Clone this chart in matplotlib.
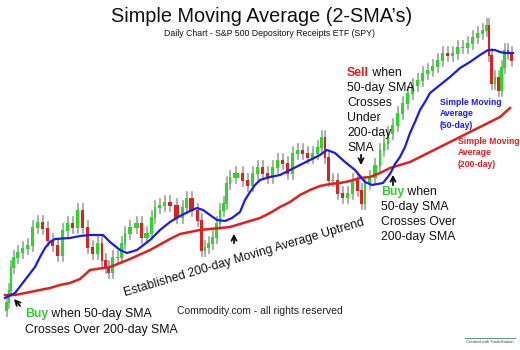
import matplotlib
matplotlib.use('Agg')
import matplotlib.pyplot as plt
import numpy as np

plt.rcParams['font.family'] = ['Liberation Sans', 'DejaVu Sans']

# trading day (approx) and price level
days = [5, 8, 10, 12, 15, 20, 25, 30, 35, 40, 45, 50, 55, 60, 65, 70, 75, 80, 85, 90,
        95, 100, 104, 107, 110, 115, 120, 123, 127, 133, 140, 143, 150, 153, 157, 162, 167,
        173, 180, 185, 188, 195, 200, 203, 207, 210, 215, 218, 222, 225, 228, 232, 240,
        245, 250, 255, 260, 265, 270, 275, 280, 285, 290, 295, 300, 305, 310, 315, 320,
        323, 327, 330, 335, 340, 345, 350, 355, 360, 363, 367, 372, 378, 382, 386, 390,
        395, 400, 405, 410, 415, 420, 425, 430, 435, 440, 445, 450, 455, 460, 465, 470,
        475, 480, 485, 488, 490, 493, 497, 500, 503, 506, 510, 513]
price = [40, 48, 60, 83, 93, 98, 102, 105, 123, 128, 122, 110, 105, 95, 120, 127, 123, 140, 123, 103,
         97, 107, 90, 83, 78, 93, 93, 107, 117, 123, 127, 113, 117, 133, 143, 145, 148,
         145, 133, 143, 152, 140, 130, 100, 103, 107, 113, 127, 140, 147, 167, 173, 177,
         170, 165, 177, 183, 177, 173, 183, 190, 187, 177, 197, 200, 197, 193, 197, 203,
         213, 193, 170, 170, 157, 153, 157, 170, 160, 147, 167, 173, 185, 200, 207, 217,
         225, 237, 247, 257, 265, 270, 277, 280, 284, 290, 297, 295, 297, 303, 303, 307,
         313, 317, 320, 325, 295, 267, 273, 260, 283, 300, 297, 290]

sma50_days = [5, 15, 25, 35, 40, 45, 50, 55, 70, 80, 90, 103, 110, 120, 127, 137, 150, 160,
              170, 180, 190, 197, 203, 210, 217, 225, 232, 240, 245, 250, 255, 260, 270,
              280, 290, 300, 310, 320, 327, 335, 345, 355, 365, 372, 383, 390, 395, 400,
              405, 410, 415, 420, 425, 430, 440, 450, 460, 470, 480, 488, 495, 500, 505, 513]
sma50 = [52, 57, 70, 83, 93, 102, 108, 111, 112, 114, 115, 115, 108, 100, 97, 100, 110, 120,
         128, 134, 139, 142, 140, 135, 130, 129, 132, 138, 150, 158, 165, 170, 173,
         175, 180, 185, 190, 195, 200, 197, 188, 180, 168, 165, 167, 176, 186, 193,
         203, 217, 228, 240, 248, 257, 265, 273, 282, 288, 295, 300, 300, 298, 297, 297]

sma200_days = [5, 15, 25, 40, 50, 60, 70, 80, 90, 110, 130, 150, 170, 180, 190, 200, 210,
               220, 230, 240, 250, 260, 270, 280, 290, 300, 310, 320, 330, 340, 350, 360,
               370, 380, 390, 400, 410, 420, 430, 440, 450, 460, 470, 480, 490, 500, 510]
sma200 = [55, 55, 57, 60, 62, 65, 67, 71, 80, 83, 91, 100, 111, 116, 118, 120, 121,
          122, 123, 126, 129, 132, 137, 143, 148, 155, 160, 164, 166, 167, 169, 172,
          173, 177, 182, 185, 188, 193, 198, 203, 208, 213, 218, 223, 228, 233, 242]

fig = plt.figure(figsize=(5.2, 3.5), dpi=100)
ax = fig.add_axes([0, 0, 1, 1])
ax.set_xlim(0, 520)
ax.set_ylim(0, 350)
ax.axis('off')

# candles: body from previous close to close, grey wick around it
for i in range(1, len(days)):
    x0, x1 = days[i-1], days[i]
    xm = (x0 + x1) / 2.0
    lo, hi = min(price[i-1], price[i]), max(price[i-1], price[i])
    ax.plot([xm, xm], [lo - 6, hi + 6], color='#a0a0a0', lw=1.2, zorder=1)
    col = '#22dd22' if price[i] >= price[i-1] else '#e02020'
    ax.bar(xm, hi - lo + 1, bottom=lo - 0.5, width=(x1 - x0) * 0.7, color=col,
           linewidth=0, zorder=2)

ax.plot(sma200_days, sma200, color='#e41e1e', lw=1.8, zorder=3)
ax.plot(sma50_days, sma50, color='#1c1ce6', lw=1.6, zorder=4)

# titles
ax.text(262, 350 - 16, 'Simple Moving Average (2-SMA\u2019s)', ha='center', va='center',
        fontsize=14.3, color='#111111')
ax.text(270, 350 - 33, 'Daily Chart - S&P 500 Depository Receipts ETF (SPY)',
        ha='center', va='center', fontsize=6.3, color='#111111')

fs = 8.8


def colored_word(x, y, word, color, rest):
    t = ax.text(x, y, word, ha='left', va='center', fontsize=fs, color=color,
                fontweight='bold')
    ax.annotate(rest, xy=(1, 0.5), xycoords=t, ha='left', va='center',
                fontsize=fs, color='#111111')


# sell annotation
colored_word(347, 350 - 73, 'Sell', '#e02020', ' when')
for k, s in enumerate(['50-day SMA', 'Crosses', 'Under', '200-day', 'SMA']):
    ax.text(347, 350 - 88 - 15 * k, s, ha='left', va='center', fontsize=fs, color='#111111')

# buy annotation right
colored_word(381, 350 - 192, 'Buy', '#33cc33', ' when')
for k, s in enumerate(['50-day SMA', 'Crosses Over', '200-day SMA']):
    ax.text(381, 350 - 207 - 15 * k, s, ha='left', va='center', fontsize=fs, color='#111111')

# buy annotation left
colored_word(25, 350 - 314, 'Buy', '#33cc33', ' when 50-day SMA')
ax.text(25, 350 - 330, 'Crosses Over 200-day SMA', ha='left', va='center', fontsize=fs,
        color='#111111')

ax.text(244, 350 - 258, 'Established 200-day Moving Average Uptrend', ha='center',
        va='center', fontsize=fs, color='#111111', rotation=16.5, rotation_mode='anchor')

ax.text(440, 350 - 98, 'Simple Moving\nAverage\n(50-day)', ha='left', va='top',
        fontsize=6.2, color='#1c1ce6', fontweight='bold', linespacing=1.35)
ax.text(458, 350 - 137, 'Simple Moving\nAverage\n(200-day)', ha='left', va='top',
        fontsize=6.2, color='#e02020', fontweight='bold', linespacing=1.35)

ax.text(260, 350 - 311, 'Commodity.com - all rights reserved', ha='center', va='center',
        fontsize=7.5, color='#222222')
ax.plot([465, 515], [350 - 338, 350 - 338], color='#5aa090', lw=0.8)
ax.text(490, 350 - 342, 'Created with TradeStation', ha='center', va='center',
        fontsize=3, color='#444444')

# arrows
arw = dict(arrowstyle='->', color='#111111', lw=1.3, mutation_scale=9)
ax.annotate('', xy=(12, 350 - 297), xytext=(22, 350 - 308), arrowprops=arw)
ax.annotate('', xy=(234, 350 - 231), xytext=(234, 350 - 246), arrowprops=arw)
ax.annotate('', xy=(361, 350 - 168), xytext=(361, 350 - 152), arrowprops=arw)
ax.annotate('', xy=(393, 350 - 172), xytext=(393, 350 - 188), arrowprops=arw)

fig.savefig('out.png', dpi=100)
